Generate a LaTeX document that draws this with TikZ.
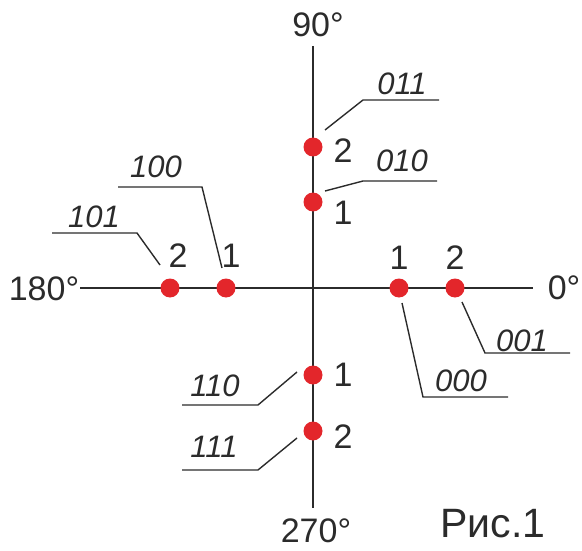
\documentclass[tikz,border=0pt]{standalone}
\usepackage{fontspec}
\setmainfont{Liberation Sans}
\definecolor{ink}{HTML}{2B2B2B}
\definecolor{dotred}{HTML}{E3262B}
\begin{document}
\begin{tikzpicture}[x=1pt,y=-1pt,
  axis/.style={draw=ink,line width=1.9pt},
  leader/.style={draw=ink,line width=1.4pt},
  pt/.style={circle,fill=dotred,inner sep=0pt,minimum size=19pt},
  num/.style={text=ink,inner sep=0pt,font=\fontsize{34}{36}\selectfont},
  code/.style={text=ink,inner sep=0pt,font=\fontsize{31}{33}\selectfont\itshape},
  deg/.style={text=ink,inner sep=0pt,font=\fontsize{34}{36}\selectfont}]
\useasboundingbox (0,0) rectangle (582,551);
% axes
\coordinate (atop) at (313,46);
\coordinate (abot) at (313,508);
\coordinate (aleft) at (80,288);
\coordinate (aright) at (533,288);
\draw[axis] (aleft) -- (aright);
\draw[axis] (atop) -- (abot);
% axis labels
\node[deg] (d90) at (318,25) {90°};
\node[deg] (d180) at (44,289) {180°};
\node[deg] (d0) at (564,288) {0°};
\node[deg] (d270) at (316,531) {270°};
\node[text=ink,inner sep=0pt,font=\fontsize{41}{43}\selectfont] (fig) at (493,524) {Рис.1};
% points
\node[pt] (h1) at (226,288) {};
\node[pt] (h2) at (170,288) {};
\node[pt] (r1) at (399,288) {};
\node[pt] (r2) at (455,288) {};
\node[pt] (v1) at (313,202) {};
\node[pt] (v2) at (313,147) {};
\node[pt] (b1) at (313,375) {};
\node[pt] (b2) at (313,431) {};
% point numbers
\node[num] (nh2) at (178,256) {2};
\node[num] (nh1) at (231,256) {1};
\node[num] (nr1) at (399,258) {1};
\node[num] (nr2) at (455,258) {2};
\node[num] (nv2) at (343,151) {2};
\node[num] (nv1) at (343,213) {1};
\node[num] (nb1) at (343,375) {1};
\node[num] (nb2) at (343,437) {2};
% codes
\node[code] (c100) at (156,167) {100};
\node[code] (c101) at (94,217) {101};
\node[code] (c011) at (402,84) {011};
\node[code] (c010) at (402,161) {010};
\node[code] (c001) at (522,341) {001};
\node[code] (c000) at (461,381) {000};
\node[code] (c110) at (215,386) {110};
\node[code] (c111) at (214,447) {111};
% leader lines
\coordinate (l100a) at (222,268); \coordinate (l100b) at (202,187); \coordinate (l100c) at (118,187);
\coordinate (l101a) at (160,265); \coordinate (l101b) at (137,233); \coordinate (l101c) at (52,233);
\coordinate (l011a) at (325,130); \coordinate (l011b) at (363,100); \coordinate (l011c) at (439,100);
\coordinate (l010a) at (325,191); \coordinate (l010b) at (363,181); \coordinate (l010c) at (437,181);
\coordinate (l001a) at (462,302); \coordinate (l001b) at (485,353); \coordinate (l001c) at (570,353);
\coordinate (l000a) at (402,303); \coordinate (l000b) at (423,397); \coordinate (l000c) at (508,397);
\coordinate (l110a) at (297,372); \coordinate (l110b) at (258,405); \coordinate (l110c) at (182,405);
\coordinate (l111a) at (297,438); \coordinate (l111b) at (258,470); \coordinate (l111c) at (182,470);
\draw[leader] (l100a) -- (l100b) -- (l100c);
\draw[leader] (l101a) -- (l101b) -- (l101c);
\draw[leader] (l011a) -- (l011b) -- (l011c);
\draw[leader] (l010a) -- (l010b) -- (l010c);
\draw[leader] (l001a) -- (l001b) -- (l001c);
\draw[leader] (l000a) -- (l000b) -- (l000c);
\draw[leader] (l110a) -- (l110b) -- (l110c);
\draw[leader] (l111a) -- (l111b) -- (l111c);
\end{tikzpicture}
\end{document}
